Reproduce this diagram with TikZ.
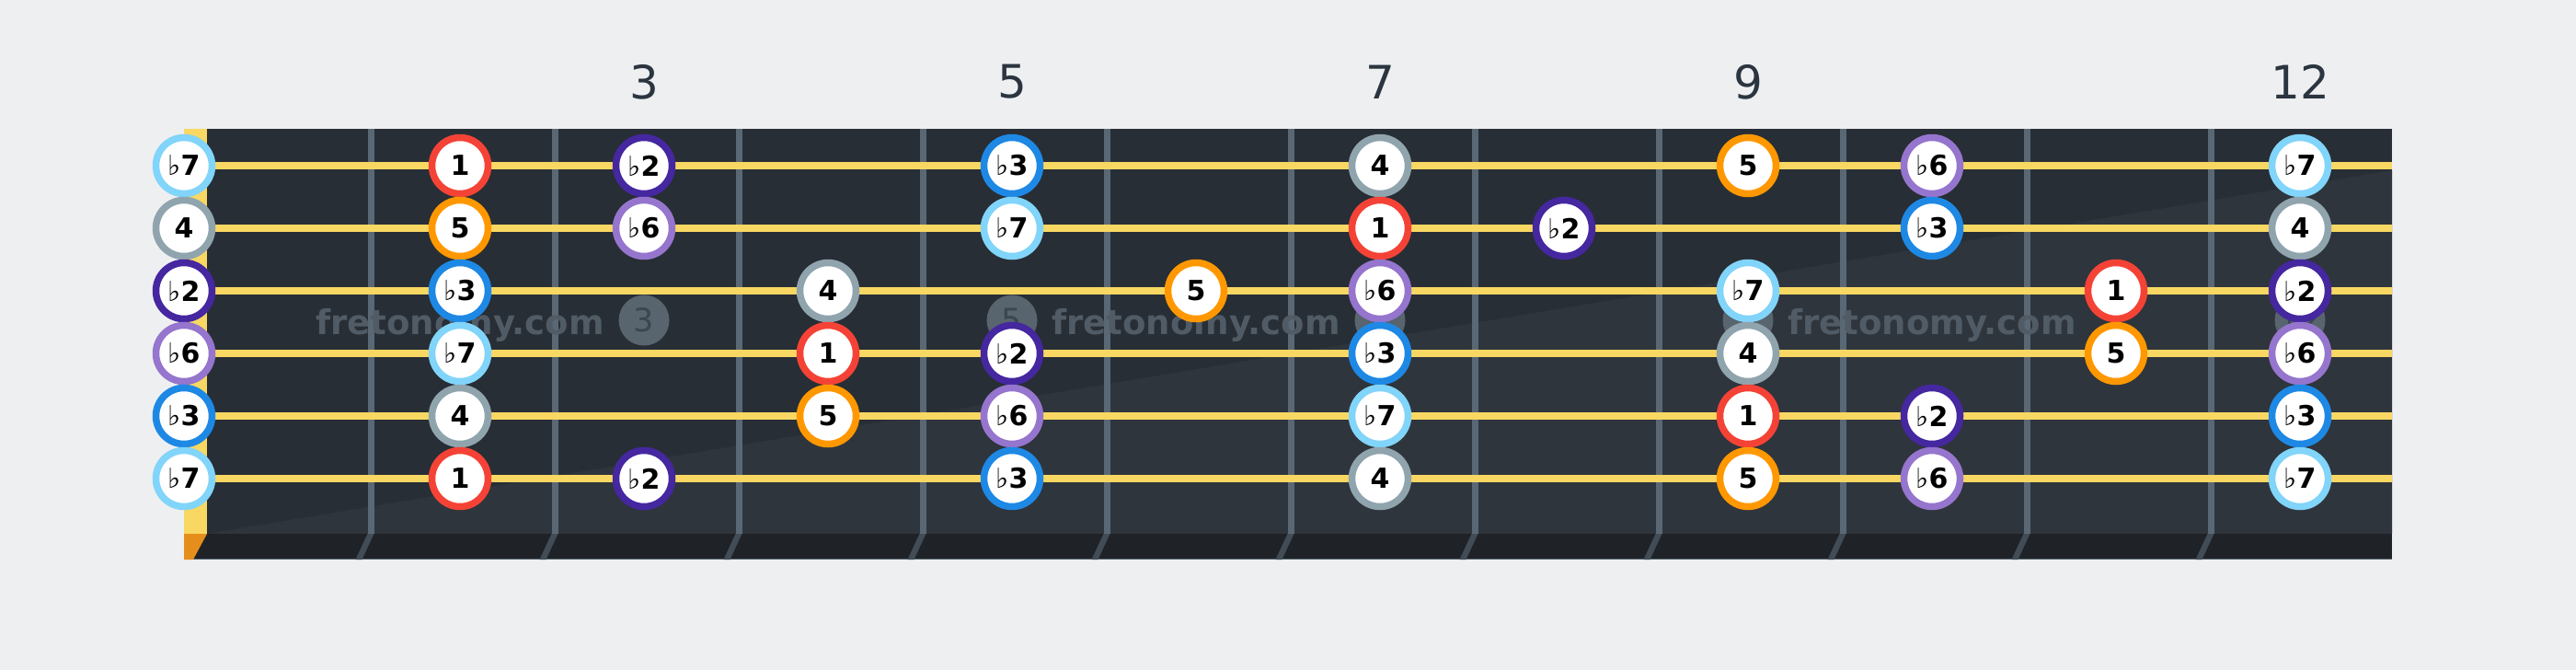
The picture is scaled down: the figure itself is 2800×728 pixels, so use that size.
\documentclass[tikz,border=0pt]{standalone}
\usepackage{fontspec}
\setmainfont{DejaVu Sans}
\newfontfamily\flatfont{DejaVu Sans}
\usetikzlibrary{calc}
\definecolor{page}{HTML}{EEEFF1}
\definecolor{board}{HTML}{282E35}
\definecolor{boardlight}{HTML}{2F353C}
\definecolor{edge}{HTML}{1F2327}
\definecolor{wire}{HTML}{5A6875}
\definecolor{nut}{HTML}{F8D862}
\definecolor{nutend}{HTML}{E58E1C}
\definecolor{strg}{HTML}{F8D862}
\definecolor{ink}{HTML}{2B3540}
\definecolor{mark}{HTML}{58646E}
\definecolor{markink}{HTML}{3C4650}
\definecolor{wmark}{HTML}{505B65}
\definecolor{c1}{HTML}{F44336}
\definecolor{cb2}{HTML}{4527A0}
\definecolor{cb3}{HTML}{1E88E5}
\definecolor{c4}{HTML}{90A4AE}
\definecolor{c5}{HTML}{FF9800}
\definecolor{cb6}{HTML}{9575CD}
\definecolor{cb7}{HTML}{81D4FA}
\tikzset{
  note/.style={circle,draw=c#1,fill=white,line width=7.5pt,minimum size=61pt,inner sep=0pt,
    font=\fontsize{30}{30}\selectfont\bfseries},
  fretnum/.style={text=ink,font=\fontsize{50}{50}\selectfont},
  markdot/.style={circle,fill=mark,minimum size=55pt,inner sep=0pt,text=markink,
    font=\fontsize{35}{35}\selectfont},
  watermark/.style={anchor=base,text=wmark,font=\fontsize{37}{37}\selectfont\bfseries},
  gstring/.style={strg,line width=8pt}
}
\newcommand\fl{{\flatfont\mdseries ♭}}

\begin{document}
\begin{tikzpicture}[x=1pt,y=-1pt]
  \fill[page] (0,0) rectangle (2800,728);
  \useasboundingbox (0,0) rectangle (2800,728);
  % Board
  \fill[board] (225,140) rectangle (2600,580);
  \fill[boardlight] (225,580) -- (2600,185) -- (2600,580) -- cycle;
  \fill[edge] (200,580) rectangle (2600,608);
  \draw[wire,line width=1.5pt] (200,607.25) -- (2600,607.25);
  \fill[nut] (200,140) rectangle (225,580);
  \fill[nutend] (200,580) -- (225,580) -- (210,608) -- (200,608) -- cycle;
  % Frets
  \foreach \i in {1,...,11} {
    \pgfmathsetmacro\x{200*\i+203}
    \fill[wire] (\x-3.5,140) rectangle (\x+3.5,580);
    \fill[wire!60!edge] (\x-3.5,580) -- (\x+3.5,580) -- (\x-9.5,608) -- (\x-16.5,608) -- cycle;
  }
  % Strings
  \foreach \s in {1,...,6}
    \draw[gstring] (225,112+68*\s) -- (2600,112+68*\s);
  % Marks
  \foreach \n in {3,5,7,9,12} {
    \node[fretnum] (num\n) at (100+200*\n,89) {\n};
    \node[markdot] (dot\n) at (100+200*\n,348) {\n};
  }
  \foreach \n in {2,6,10}
    \node[watermark] (wm\n) at (100+200*\n,363) {fretonomy.com};
  % Notes
  \foreach \s/\notes in {
      1/{0/b7/\fl7,2/1/1,3/b2/\fl2,5/b3/\fl3,7/4/4,9/5/5,10/b6/\fl6,12/b7/\fl7},
      2/{0/4/4,2/5/5,3/b6/\fl6,5/b7/\fl7,7/1/1,8/b2/\fl2,10/b3/\fl3,12/4/4},
      3/{0/b2/\fl2,2/b3/\fl3,4/4/4,6/5/5,7/b6/\fl6,9/b7/\fl7,11/1/1,12/b2/\fl2},
      4/{0/b6/\fl6,2/b7/\fl7,4/1/1,5/b2/\fl2,7/b3/\fl3,9/4/4,11/5/5,12/b6/\fl6},
      5/{0/b3/\fl3,2/4/4,4/5/5,5/b6/\fl6,7/b7/\fl7,9/1/1,10/b2/\fl2,12/b3/\fl3},
      6/{0/b7/\fl7,2/1/1,3/b2/\fl2,5/b3/\fl3,7/4/4,9/5/5,10/b6/\fl6,12/b7/\fl7}}
    \foreach \f/\d/\t in \notes {
      \pgfmathsetmacro\x{\f==0 ? 200 : 100+200*\f}
      \node[note=\d] (s\s-\f) at (\x,112+68*\s) {\t};
    }
\end{tikzpicture}
\end{document}
